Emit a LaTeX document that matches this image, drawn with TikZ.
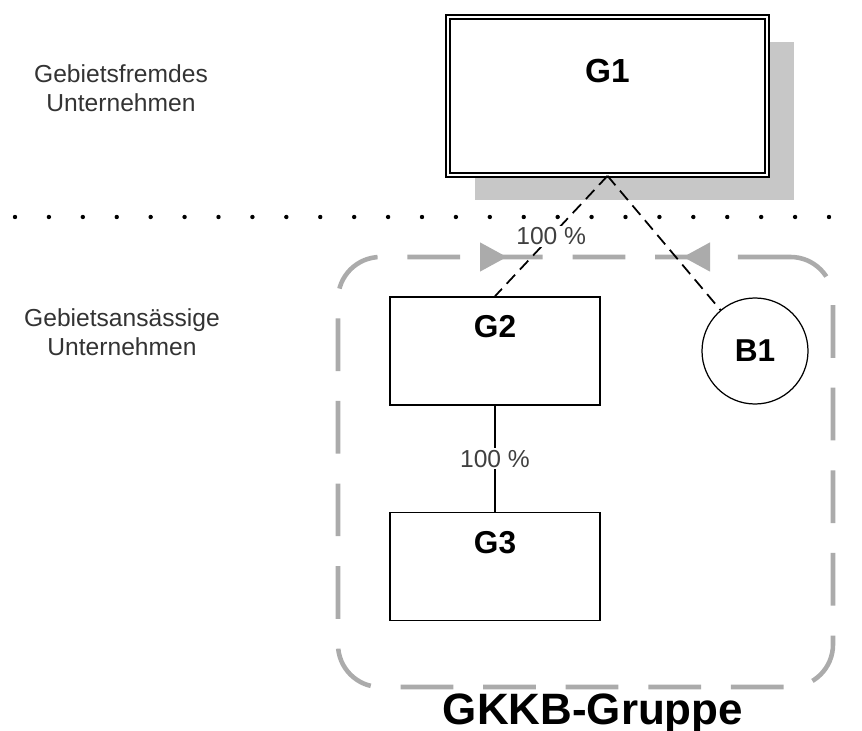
\documentclass[tikz,border=0pt]{standalone}
\usepackage{fontspec}
\setmainfont{Liberation Sans}
\usepackage{tikz}
\usetikzlibrary{arrows.meta, positioning, shadows}

\begin{document}
\begin{tikzpicture}[
  firm/.style={draw, line width=0.9pt, fill=white, inner sep=0pt,
    minimum width=4.2cm, text height=0.82cm, text depth=1.34cm,
    font=\fontsize{18}{18}\selectfont\bfseries},
  bank/.style={draw, circle, line width=0.7pt, minimum size=2.12cm,
    inner sep=0pt, font=\fontsize{18}{18}\selectfont\bfseries},
  share/.style={line width=1pt, dash pattern=on 7pt off 4pt},
  pct/.style={fill=white, inner sep=1pt, text=black!75,
    font=\fontsize{14}{14}\selectfont},
  side/.style={align=center, text=black!80,
    font=\fontsize{14}{16.5}\selectfont},
  grpline/.style={draw=black!33, line width=2.6pt,
    dash pattern=on 30pt off 17pt, rounded corners=0.85cm},
  grparrow/.style={-{Triangle[length=0.54cm, width=0.56cm]},
    draw=black!33, fill=black!33, line width=2.6pt}
]
\useasboundingbox (0,0) rectangle (17.24,-14.62);

% Beschriftung links
\node[side] (fremd) at (2.42,-1.76) {Gebietsfremdes\\Unternehmen};
\node[side] (ansaessig) at (2.44,-6.64) {Gebietsansässige\\Unternehmen};

% Grenze
\coordinate (gl) at (0.3,-4.34);
\coordinate (gr) at (16.9,-4.34);
\draw[line width=2.5pt, line cap=round, dash pattern=on 0pt off 19.3pt] (gl) -- (gr);

% Gruppe
\node[grpline, minimum width=9.9cm, minimum height=8.6cm] (grp) at (11.71,-9.44) {};
\coordinate (pin0) at (10.0,-5.14);
\coordinate (pin) at (10.14,-5.14);
\coordinate (pout0) at (13.8,-5.14);
\coordinate (pout) at (13.66,-5.14);
\draw[grparrow] (pin0) -- (pin);
\draw[grparrow] (pout0) -- (pout);
\node[anchor=base, font=\fontsize{25}{25}\selectfont\bfseries] (gkkb) at (11.86,-14.48) {GKKB-Gruppe};

% Unternehmen
\node[firm, double, double distance=1.6pt, line width=1pt, minimum width=6.38cm,
  text height=1.32cm, text depth=1.84cm,
  font=\fontsize{19}{19}\selectfont\bfseries,
  drop shadow={shadow xshift=0.54cm, shadow yshift=-0.5cm, fill=black!22, opacity=1}]
  (G1) at (12.15,-1.92) {G1};
\node[firm] (G2) at (9.9,-7.02) {G2};
\node[firm] (G3) at (9.9,-11.33) {G3};
\node[bank] (B1) at (15.1,-7.02) {B1};

% Beteiligungen
\draw[share] (G1.south) -- node[pct] {100 \%} (G2.north);
\draw[share] (G1.south) -- (B1);
\draw[line width=0.9pt] (G2) -- node[pct] {100 \%} (G3);
\end{tikzpicture}
\end{document}
